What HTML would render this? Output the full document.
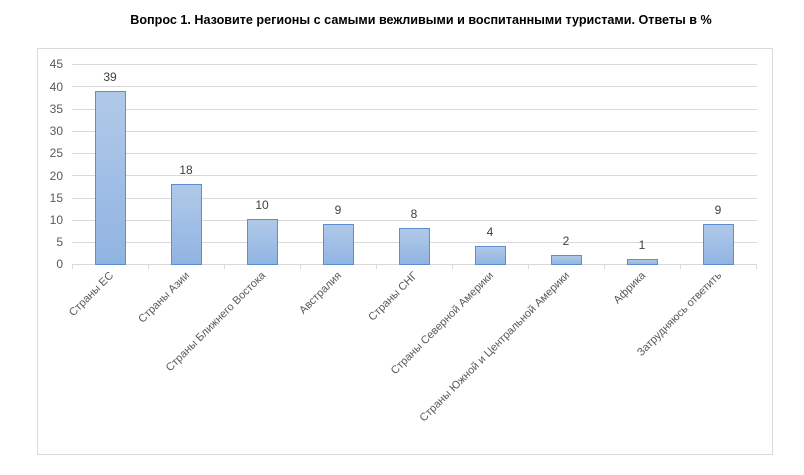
<!DOCTYPE html><html><head><meta charset="utf-8"><style>body{margin:0;background:#fff}</style></head><body>
<svg width="804" height="470" xmlns="http://www.w3.org/2000/svg" font-family="Liberation Sans, sans-serif">
<defs><linearGradient id="g" x1="0" y1="0" x2="0" y2="1"><stop offset="0" stop-color="#b1c9e8"/><stop offset="1" stop-color="#90b4e2"/></linearGradient></defs>
<text x="421" y="24" text-anchor="middle" font-size="12.6" font-weight="bold" fill="#000">Вопрос 1. Назовите регионы с самыми вежливыми и воспитанными туристами. Ответы в %</text>
<rect x="37.5" y="48.5" width="735" height="406" fill="none" stroke="#d9d9d9"/>
<g stroke="#d9d9d9" stroke-width="1">
<line x1="72" x2="757" y1="64.5" y2="64.5"/><line x1="72" x2="757" y1="86.5" y2="86.5"/><line x1="72" x2="757" y1="109.5" y2="109.5"/><line x1="72" x2="757" y1="131.5" y2="131.5"/><line x1="72" x2="757" y1="153.5" y2="153.5"/><line x1="72" x2="757" y1="175.5" y2="175.5"/><line x1="72" x2="757" y1="198.5" y2="198.5"/><line x1="72" x2="757" y1="220.5" y2="220.5"/><line x1="72" x2="757" y1="242.5" y2="242.5"/><line x1="72" x2="757" y1="264.5" y2="264.5"/>
<line x1="72.5" x2="72.5" y1="264" y2="269"/><line x1="148.5" x2="148.5" y1="264" y2="269"/><line x1="224.5" x2="224.5" y1="264" y2="269"/><line x1="300.5" x2="300.5" y1="264" y2="269"/><line x1="376.5" x2="376.5" y1="264" y2="269"/><line x1="452.5" x2="452.5" y1="264" y2="269"/><line x1="528.5" x2="528.5" y1="264" y2="269"/><line x1="604.5" x2="604.5" y1="264" y2="269"/><line x1="680.5" x2="680.5" y1="264" y2="269"/><line x1="756.5" x2="756.5" y1="264" y2="269"/>
</g>
<g font-size="12" fill="#595959" text-anchor="end">
<text x="63" y="68">45</text><text x="63" y="91">40</text><text x="63" y="113">35</text><text x="63" y="135">30</text><text x="63" y="157">25</text><text x="63" y="180">20</text><text x="63" y="202">15</text><text x="63" y="224">10</text><text x="63" y="246">5</text><text x="63" y="268">0</text>
</g>
<g fill="url(#g)" stroke="#5b8fd0" stroke-width="1">
<rect x="95.5" y="91.5" width="30" height="173"/>
<rect x="171.5" y="184.5" width="30" height="80"/>
<rect x="247.5" y="219.5" width="30" height="45"/>
<rect x="323.5" y="224.5" width="30" height="40"/>
<rect x="399.5" y="228.5" width="30" height="36"/>
<rect x="475.5" y="246.5" width="30" height="18"/>
<rect x="551.5" y="255.5" width="30" height="9"/>
<rect x="627.5" y="259.5" width="30" height="5"/>
<rect x="703.5" y="224.5" width="30" height="40"/>
</g>
<g font-size="12" fill="#404040" text-anchor="middle">
<text x="110" y="81">39</text><text x="186" y="174">18</text><text x="262" y="209">10</text><text x="338" y="214">9</text><text x="414" y="218">8</text><text x="490" y="236">4</text><text x="566" y="245">2</text><text x="642" y="249">1</text><text x="718" y="214">9</text>
</g>
<g font-size="11" fill="#595959" text-anchor="end">
<text transform="translate(114,276) rotate(-45)">Страны ЕС</text>
<text transform="translate(190,276) rotate(-45)">Страны Азии</text>
<text transform="translate(266,276) rotate(-45)">Страны Ближнего Востока</text>
<text transform="translate(342,276) rotate(-45)">Австралия</text>
<text transform="translate(418,276) rotate(-45)">Страны СНГ</text>
<text transform="translate(494,276) rotate(-45)">Страны Северной Америки</text>
<text transform="translate(570,276) rotate(-45)">Страны Южной и Центральной Америки</text>
<text transform="translate(646,276) rotate(-45)">Африка</text>
<text transform="translate(722,276) rotate(-45)">Затрудняюсь ответить</text>
</g>
</svg></body></html>
